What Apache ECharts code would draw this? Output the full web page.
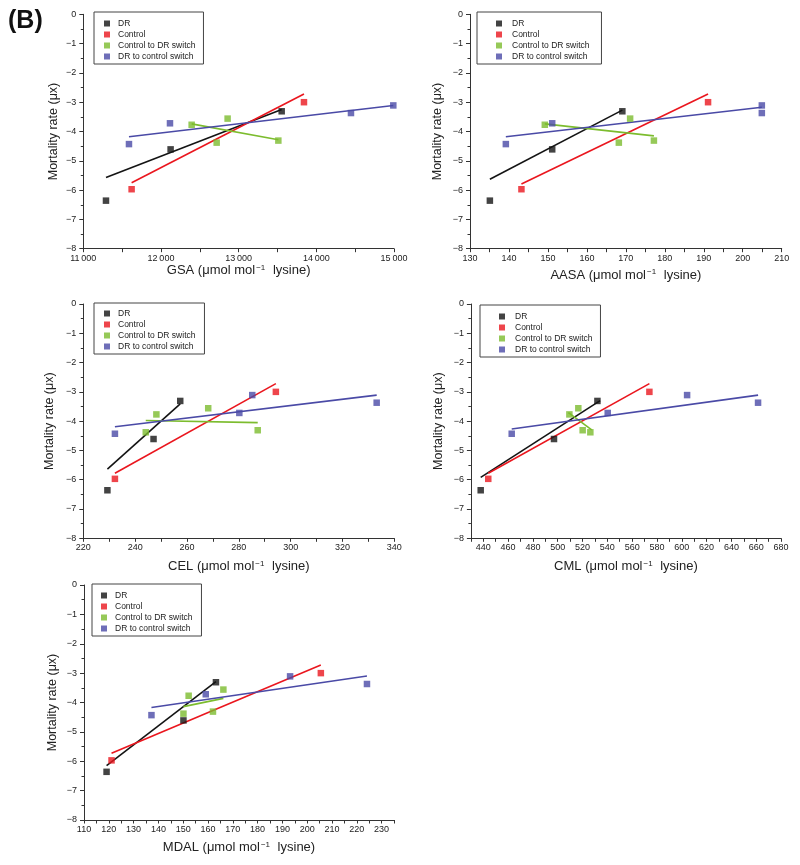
<!DOCTYPE html>
<html><head><meta charset="utf-8">
<script src="https://cdn.jsdelivr.net/npm/echarts@6/dist/echarts.min.js"></script>
<style>html,body{margin:0;padding:0;background:#fff}#c{width:800px;height:865px}</style>
</head><body><div id="c"></div>
<script>
// ---- shared ----
const groups = ['DR', 'Control', 'Control to DR switch', 'DR to control switch'];
const groupColors = ['#141414', '#ea161e', '#7cbc2e', '#4a4aa6'];
const drMort = [-6.36, -4.61, -3.31];
const ctrlMort = [-5.97, -3.00];
const c2dMort = [-3.77, -4.38, -3.56, -4.31];
const d2cMort = [-4.43, -3.72, -3.11, -3.37];
const yTicks = [0, -1, -2, -3, -4, -5, -6, -7, -8];

// ---- GSA ----
const gsaDR = [11292, 12124, 13554];
const gsaCtrl = [11622, 13841];
const gsaC2D = [12395, 12717, 12858, 13511];
const gsaD2C = [11588, 12116, 14991, 14446];
const gsaFitDR = [[11292, -5.57], [13554, -3.25]];
const gsaFitCtrl = [[11622, -5.75], [13841, -2.72]];
const gsaFitC2D = [[12395, -3.74], [13511, -4.28]];
const gsaFitD2C = [[11588, -4.18], [14991, -3.11]];
const gsaTicks = [11000, 12000, 13000, 14000, 15000];

// ---- AASA ----
const aasaDR = [135.1, 151.1, 169.1];
const aasaCtrl = [143.2, 191.1];
const aasaC2D = [149.2, 168.2, 171.1, 177.2];
const aasaD2C = [139.2, 151.1, 204.9, 204.9];
const aasaFitDR = [[135.1, -5.63], [169.1, -3.27]];
const aasaFitCtrl = [[143.2, -5.79], [191.1, -2.72]];
const aasaFitC2D = [[149.2, -3.74], [177.2, -4.15]];
const aasaFitD2C = [[139.2, -4.18], [204.9, -3.17]];
const aasaTicks = [130, 140, 150, 160, 170, 180, 190, 200, 210];

// ---- CEL ----
const celDR = [229.3, 247.1, 257.4];
const celCtrl = [232.2, 294.3];
const celC2D = [248.2, 244.1, 268.2, 287.3];
const celD2C = [232.2, 280.2, 285.2, 333.2];
const celFitDR = [[229.3, -5.64], [257.4, -3.41]];
const celFitCtrl = [[232.2, -5.78], [294.3, -2.72]];
const celFitC2D = [[244.1, -3.98], [287.3, -4.05]];
const celFitD2C = [[232.2, -4.19], [333.2, -3.11]];
const celTicks = [220, 240, 260, 280, 300, 320, 340];

// ---- CML ----
const cmlDR = [437.9, 497.0, 532.0];
const cmlCtrl = [444.0, 573.9];
const cmlC2D = [509.4, 526.3, 516.6, 520.1];
const cmlD2C = [462.9, 540.3, 604.3, 661.5];
const cmlFitDR = [[437.9, -5.92], [534.2, -3.30]];
const cmlFitCtrl = [[444.0, -5.78], [573.9, -2.72]];
const cmlFitC2D = [[508.6, -3.71], [527.4, -4.30]];
const cmlFitD2C = [[462.9, -4.27], [661.5, -3.11]];
const cmlTicks = [440, 460, 480, 500, 520, 540, 560, 580, 600, 620, 640, 660, 680];

// ---- MDAL ----
const mdalDR = [119.1, 150.1, 163.2];
const mdalCtrl = [121.1, 205.5];
const mdalC2D = [152.2, 150.1, 166.2, 162.0];
const mdalD2C = [137.2, 159.1, 193.1, 224.1];
const mdalFitDR = [[119.1, -6.15], [163.2, -3.29]];
const mdalFitCtrl = [[121.1, -5.73], [205.5, -2.72]];
const mdalFitC2D = [[150.1, -4.14], [166.2, -3.86]];
const mdalFitD2C = [[137.2, -4.17], [224.1, -3.10]];
const mdalTicks = [110, 120, 130, 140, 150, 160, 170, 180, 190, 200, 210, 220, 230];

// ---- build ----
const FONT = 'Liberation Sans, Arial, sans-serif';
const panels = [
  {name: 'GSA', min: 11000, max: 15000, step: 500, ticks: gsaTicks, xs: [gsaDR, gsaCtrl, gsaC2D, gsaD2C],
   fits: [gsaFitDR, gsaFitCtrl, gsaFitC2D, gsaFitD2C], fmt: v => String(v).replace(/(\d\d)(\d\d\d)$/, '$1\u2009$2'),
   xGap: 10, yGap: 23.5,
   grid: {left: 83.3, top: 14.3, width: 310.7, height: 234.4}, legend: {left: 94, top: 12, padding: [7, 8, 3, 10], gap: 3}},
  {name: 'AASA', min: 130, max: 210, step: 5, ticks: aasaTicks, xs: [aasaDR, aasaCtrl, aasaC2D, aasaD2C],
   fits: [aasaFitDR, aasaFitCtrl, aasaFitC2D, aasaFitD2C], fmt: v => String(v),
   xGap: 19.5, yGap: 25.5,
   grid: {left: 470, top: 14.3, width: 311.7, height: 234.4}, legend: {left: 477, top: 12, padding: [7, 12, 3, 19], gap: 5}},
  {name: 'CEL', min: 220, max: 340, step: 10, ticks: celTicks, xs: [celDR, celCtrl, celC2D, celD2C],
   fits: [celFitDR, celFitCtrl, celFitC2D, celFitD2C], fmt: v => String(v),
   xGap: 21.5, yGap: 27.5,
   grid: {left: 83.3, top: 304, width: 311, height: 234.3}, legend: {left: 94, top: 303, padding: [6, 9, 3, 10], gap: 3}},
  {name: 'CML', min: 430, max: 680, step: 10, ticks: cmlTicks, xs: [cmlDR, cmlCtrl, cmlC2D, cmlD2C],
   fits: [cmlFitDR, cmlFitCtrl, cmlFitC2D, cmlFitD2C], fmt: v => String(v),
   xGap: 21.5, yGap: 25.5,
   grid: {left: 470.9, top: 304, width: 310.1, height: 234.3}, legend: {left: 480, top: 305, padding: [7, 8, 3, 19], gap: 5}},
  {name: 'MDAL', min: 110, max: 235, step: 5, ticks: mdalTicks, xs: [mdalDR, mdalCtrl, mdalC2D, mdalD2C],
   fits: [mdalFitDR, mdalFitCtrl, mdalFitC2D, mdalFitD2C], fmt: v => String(v),
   xGap: 20.5, yGap: 24.5,
   grid: {left: 84, top: 585, width: 310, height: 235}, legend: {left: 92, top: 584, padding: [7, 9, 3, 9], gap: 3}}
];
const morts = [drMort, ctrlMort, c2dMort, d2cMort];
const axisColor = '#333';

const grid = [], xAxis = [], yAxis = [], series = [], legend = [];
panels.forEach((p, i) => {
  grid.push(Object.assign({containLabel: false}, p.grid));
  xAxis.push({
    type: 'value', gridIndex: i, min: p.min, max: p.max, interval: p.step, position: 'bottom',
    name: p.name + ' (\u03bcmol mol{sup|\u22121} lysine)', nameLocation: 'middle', nameGap: p.xGap,
    nameTextStyle: {fontFamily: FONT, fontSize: 13, color: '#222', rich: {sup: {fontFamily: FONT, fontSize: 8, color: '#222', verticalAlign: 'top', padding: [0, 4, 6, 1]}}},
    axisLine: {show: true, onZero: false, lineStyle: {color: axisColor, width: 1}},
    axisTick: {show: true, inside: false, length: 3.5, lineStyle: {color: axisColor}},
    axisLabel: {show: true, customValues: p.ticks, margin: 5, fontFamily: FONT, fontSize: 9, color: '#222', formatter: p.fmt},
    splitLine: {show: false}
  });
  yAxis.push({
    type: 'value', gridIndex: i, min: -8, max: 0, interval: 1, position: 'left',
    name: 'Mortality rate (\u03bcx)', nameLocation: 'middle', nameGap: p.yGap,
    nameTextStyle: {fontFamily: FONT, fontSize: 12.5, color: '#222'},
    axisLine: {show: true, onZero: false, lineStyle: {color: axisColor, width: 1}},
    axisTick: {show: true, inside: false, length: 4, lineStyle: {color: axisColor}},
    minorTick: {show: true, splitNumber: 2, length: 2.5, lineStyle: {color: axisColor}},
    axisLabel: {margin: 7, fontFamily: FONT, fontSize: 9, color: '#222', formatter: v => v === 0 ? '0' : '\u2212' + Math.abs(v)},
    splitLine: {show: false}, minorSplitLine: {show: false}
  });
  groups.forEach((g, k) => {
    series.push({
      type: 'line', name: g + ' fit', xAxisIndex: i, yAxisIndex: i,
      data: p.fits[k], symbol: 'none', silent: true, z: 2,
      lineStyle: {color: groupColors[k], width: 1.6}
    });
  });
  groups.forEach((g, k) => {
    series.push({
      type: 'scatter', name: g, xAxisIndex: i, yAxisIndex: i,
      data: p.xs[k].map((x, j) => [x, morts[k][j]]),
      symbol: 'rect', symbolSize: 6.5, z: 3,
      itemStyle: {color: groupColors[k]}
    });
  });
  legend.push({
    data: groups, orient: 'vertical', left: p.legend.left, top: p.legend.top,
    padding: p.legend.padding, itemGap: 2, itemWidth: 6, itemHeight: 6, icon: 'rect',
    borderColor: '#444', borderWidth: 1, backgroundColor: '#fff',
    textStyle: {fontFamily: FONT, fontSize: 8.5, color: '#222', padding: [0, 0, 0, p.legend.gap]},
    selectedMode: false
  });
});

const chart = echarts.init(document.getElementById('c'), null, {renderer: 'canvas'});
chart.setOption({
  animation: false,
  backgroundColor: '#fff',
  grid, xAxis, yAxis, series, legend,
  graphic: [{type: 'text', left: 8, top: 9, style: {text: '(B)', font: 'bold 25px ' + FONT, fill: '#111'}}]
});
</script></body></html>
